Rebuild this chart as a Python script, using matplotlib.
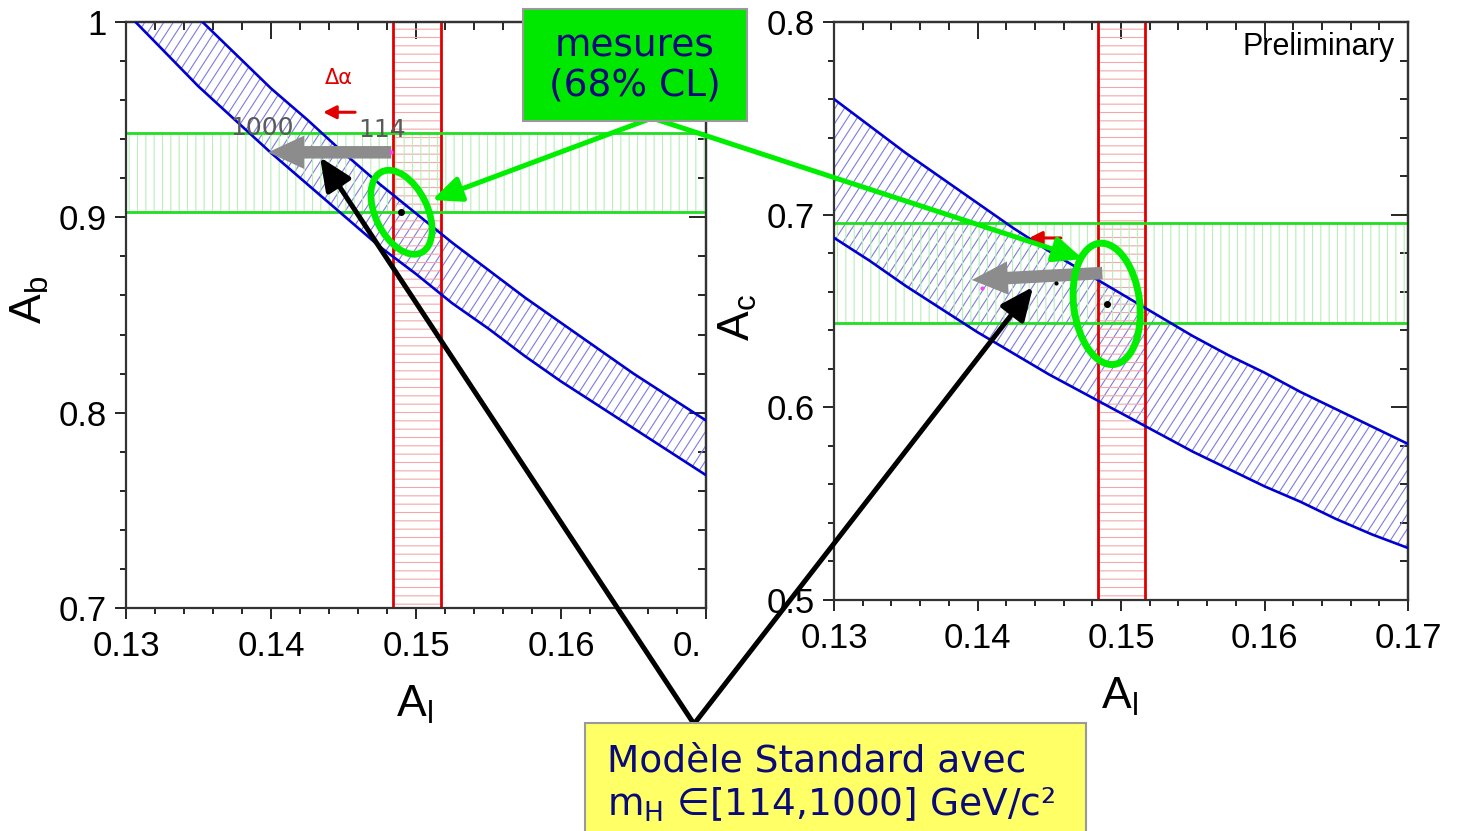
import matplotlib
matplotlib.use('Agg')
import matplotlib.pyplot as plt
import numpy as np
from matplotlib.patches import Rectangle, Ellipse, Polygon
from matplotlib.collections import LineCollection
from matplotlib.ticker import MultipleLocator, FuncFormatter

plt.rcParams['font.family'] = ['Liberation Sans', 'DejaVu Sans']
plt.rcParams['hatch.linewidth'] = 0.8

# A_l values at which the band edges are given
al_grid = [0.130, 0.1325, 0.135, 0.1375, 0.140, 0.1425, 0.145, 0.1475, 0.150,
           0.1525, 0.155, 0.1575, 0.160, 0.1625, 0.165, 0.1675, 0.170]
# A_b band from A_FB(b) (lower / upper edge)
ab_low = [1.005, 0.986, 0.967, 0.950, 0.933, 0.917, 0.901, 0.885, 0.871,
          0.856, 0.843, 0.829, 0.816, 0.804, 0.792, 0.780, 0.768]
ab_high = [1.041, 1.021, 1.002, 0.984, 0.966, 0.950, 0.933, 0.917, 0.902,
           0.887, 0.873, 0.859, 0.846, 0.833, 0.820, 0.808, 0.796]
# A_c band from A_FB(c)
ac_low = [0.688, 0.676, 0.663, 0.651, 0.639, 0.628, 0.617, 0.607, 0.597,
          0.587, 0.577, 0.568, 0.559, 0.551, 0.542, 0.534, 0.527]
ac_high = [0.760, 0.746, 0.732, 0.719, 0.706, 0.693, 0.681, 0.670, 0.659,
           0.648, 0.637, 0.627, 0.618, 0.608, 0.599, 0.590, 0.581]

# direct measurements (68% CL bands)
al_band = [0.1484, 0.1517]
ab_band = [0.9026, 0.9430]
ac_band = [0.6438, 0.6957]

# fitted points
ab_point = [0.1490, 0.9026]
ac_point = [0.1490, 0.6537]

# SM prediction, mH from 114 to 1000 GeV (start, end)
sm_ab_al = [0.1483, 0.1398]
sm_ab = [0.9333, 0.9333]
sm_ac_al = [0.1487, 0.1396]
sm_ac = [0.6697, 0.6661]

# shift from delta alpha
da_al = [0.1458, 0.1436]
da_ab = 0.9538
da_ac = 0.6879

W, H = 1460, 831
fig = plt.figure(figsize=(W / 100, H / 100), dpi=100)

axL = fig.add_axes([126 / W, 1 - 608 / H, 580 / W, 586 / H])
axR = fig.add_axes([834 / W, 1 - 600 / H, 574 / W, 578 / H])

fmt = FuncFormatter(lambda v, p: '%g' % round(v, 3))


def setup(ax, ylim):
    ax.set_xlim(0.13, 0.17)
    ax.set_ylim(*ylim)
    ax.xaxis.set_major_locator(MultipleLocator(0.01))
    ax.xaxis.set_minor_locator(MultipleLocator(0.002))
    ax.yaxis.set_major_locator(MultipleLocator(0.1))
    ax.yaxis.set_minor_locator(MultipleLocator(0.02))
    ax.xaxis.set_major_formatter(fmt)
    ax.yaxis.set_major_formatter(fmt)
    ax.tick_params(which='both', direction='out', width=1.2, labelsize=25,
                   colors='black')
    ax.tick_params(which='major', length=8)
    ax.tick_params(which='minor', length=4.5)
    ax.tick_params(axis='x', pad=8)
    ax.tick_params(axis='y', pad=6)
    for s in ax.spines.values():
        s.set_linewidth(1.6)
        s.set_color('#333333')
    # inward ticks on the opposite sides
    top = ax.secondary_xaxis('top')
    top.xaxis.set_major_locator(MultipleLocator(0.01))
    top.xaxis.set_minor_locator(MultipleLocator(0.002))
    top.tick_params(which='both', direction='in', width=1.2, labeltop=False)
    top.tick_params(which='major', length=12)
    top.tick_params(which='minor', length=6)
    top.spines['top'].set_linewidth(1.6)
    top.spines['top'].set_color('#333333')
    right = ax.secondary_yaxis('right')
    right.yaxis.set_major_locator(MultipleLocator(0.1))
    right.yaxis.set_minor_locator(MultipleLocator(0.02))
    right.tick_params(which='both', direction='in', width=1.2, labelright=False)
    right.tick_params(which='major', length=12)
    right.tick_params(which='minor', length=6)
    right.spines['right'].set_linewidth(1.6)
    right.spines['right'].set_color('#333333')


def slant_hatch(ax, ylo, yhi, color, angle=57, spacing=9.5):
    # steep hatching clipped to the band outline
    verts = list(zip(al_grid, ylo)) + list(zip(al_grid[::-1], yhi[::-1]))
    clip = Polygon(verts, closed=True, transform=ax.transData)
    bb = ax.get_position()
    w, h = bb.width * W, bb.height * H
    step = spacing / w
    dx = h / np.tan(np.radians(angle)) / w
    segs = [[(x0, 0), (x0 + dx, 1)] for x0 in np.arange(-dx, 1 + step, step)]
    lc = LineCollection(segs, colors=color, linewidths=0.8,
                        transform=ax.transAxes, zorder=1)
    lc.set_clip_path(clip)
    ax.add_collection(lc, autolim=False)


def bands(ax, ylo, yhi, yband, point):
    slant_hatch(ax, ylo, yhi, '#7c7ce2')
    ax.plot(al_grid, ylo, color='#0000d0', lw=1.9, zorder=3)
    ax.plot(al_grid, yhi, color='#0000d0', lw=1.9, zorder=3)
    ax.axvspan(al_band[0], al_band[1], facecolor='none', edgecolor='#f2a8a8',
               hatch='--', lw=0, zorder=1)
    ax.axhspan(yband[0], yband[1], facecolor='none', edgecolor='#b8eeb8',
               hatch='||', lw=0, zorder=1)
    for v in al_band:
        ax.axvline(v, color='#e00000', lw=2.0, zorder=2)
    for v in yband:
        ax.axhline(v, color='#22dd22', lw=2.0, zorder=2)
    ax.plot(point[0], point[1], 'o', color='black', ms=4, zorder=5)


setup(axL, (0.7, 1.0))
setup(axR, (0.5, 0.8))
bands(axL, ab_low, ab_high, ab_band, ab_point)
bands(axR, ac_low, ac_high, ac_band, ac_point)

# SM arrows
grey = dict(arrowstyle='simple,head_length=2.6,head_width=2.4,tail_width=0.9',
            mutation_scale=10, color='#8c8c8c', lw=0, shrinkA=0, shrinkB=0)
axL.annotate('', xy=(sm_ab_al[1], sm_ab[1]), xytext=(sm_ab_al[0], sm_ab[0]),
             arrowprops=grey, zorder=6)
axR.annotate('', xy=(sm_ac_al[1], sm_ac[1]), xytext=(sm_ac_al[0], sm_ac[0]),
             arrowprops=grey, zorder=6)
axL.plot(sm_ab_al[0], sm_ab[0], 'o', color='#ff40ff', ms=2, zorder=7)
axR.plot(sm_ac_al[1] + 0.0007, sm_ac[1] - 0.004, 'o', color='#ff40ff', ms=2, zorder=7)
axR.plot(0.1455, 0.6646, 'o', color='black', ms=2, zorder=7)
axL.text(0.13938, 0.9456, '1000', color='#5a5a5a', fontsize=18,
         family='DejaVu Sans', ha='center', va='center', zorder=7)
axL.text(0.14766, 0.9446, '114', color='#5a5a5a', fontsize=18,
         family='DejaVu Sans', ha='center', va='center', zorder=7)

# delta alpha shift
red = dict(arrowstyle='-|>,head_length=0.55,head_width=0.28', mutation_scale=14,
           color='#e00000', lw=2.2, shrinkA=0, shrinkB=0)
axL.annotate('', xy=(da_al[1], da_ab), xytext=(da_al[0], da_ab), arrowprops=red, zorder=6)
axR.annotate('', xy=(da_al[1], da_ac), xytext=(da_al[0], da_ac), arrowprops=red, zorder=6)
axL.text(0.14469, 0.9713, 'Δα', color='#e00000', fontsize=15,
         family='DejaVu Sans', ha='center', va='center', zorder=7)

axR.text(0.977, 0.957, 'Preliminary', transform=axR.transAxes, ha='right',
         va='center', fontsize=22)

# axis titles
axL.text(-0.166, 0.526, r'$\mathregular{A_b}$', transform=axL.transAxes,
         rotation=90, ha='center', va='center', fontsize=32)
axL.text(0.498, -0.166, r'$\mathregular{A_l}$', transform=axL.transAxes,
         ha='center', va='center', fontsize=32)
axR.text(-0.167, 0.488, r'$\mathregular{A_c}$', transform=axR.transAxes,
         rotation=90, ha='center', va='center', fontsize=32)
axR.text(0.498, -0.168, r'$\mathregular{A_l}$', transform=axR.transAxes,
         ha='center', va='center', fontsize=32)

# overlay in pixel units for the slide annotations
ov = fig.add_axes([0, 0, 1, 1], zorder=10)
ov.set_xlim(0, W)
ov.set_ylim(H, 0)
ov.axis('off')
ov.patch.set_alpha(0)

# the left frame is cut at its right edge
ov.add_patch(Rectangle((701, 621), 60, 50, facecolor='white', edgecolor='none', zorder=1))


def to_px(ax, xy):
    return ov.transData.inverted().transform(ax.transData.transform(xy))


# contours around the fitted points
cL = to_px(axL, ab_point)
cR = to_px(axR, ac_point)
ov.add_patch(Ellipse(cL, 90, 52, angle=64, facecolor='none', edgecolor='#00ee00',
                     lw=4.8, zorder=3))
ov.add_patch(Ellipse(cR, 122, 66, angle=83, facecolor='none', edgecolor='#00ee00',
                     lw=5, zorder=3))

green = dict(arrowstyle='-|>,head_length=0.8,head_width=0.35', mutation_scale=22,
             color='#00ee00', lw=3.6, shrinkA=0, shrinkB=0)
ov.annotate('', xy=(432, 200), xytext=(652, 118), arrowprops=green, zorder=4)
ov.annotate('', xy=(1083, 259), xytext=(652, 118), arrowprops=green, zorder=4)

black = dict(arrowstyle='-|>,head_length=0.9,head_width=0.4', mutation_scale=22,
             color='black', lw=3.6, shrinkA=0, shrinkB=0)
ov.annotate('', xy=(0.14338, 0.9308), xycoords=axL.transData, xytext=(694, 724),
            textcoords=ov.transData, arrowprops=black, zorder=5)
ov.annotate('', xy=(0.14387, 0.6625), xycoords=axR.transData, xytext=(694, 724),
            textcoords=ov.transData, arrowprops=black, zorder=5)

navy = '#0a0a78'
ov.add_patch(Rectangle((523, 9), 224, 112, facecolor='#00e800', edgecolor='#999999',
                       lw=1.5, zorder=6))
ov.text(635, 66, 'mesures\n(68% CL)', color=navy, fontsize=27, family='DejaVu Sans',
        ha='center', va='center', linespacing=1.1, zorder=7)

ov.add_patch(Rectangle((585, 723), 501, 140, facecolor='#ffff66', edgecolor='#999999',
                       lw=1.5, zorder=6))
ov.text(607, 771, 'Modèle Standard avec', color=navy, fontsize=27,
        family='DejaVu Sans', ha='left', va='baseline', zorder=7)
ov.text(607, 816, r'$\mathregular{m_H}$ ∈[114,1000] GeV/c²', color=navy, fontsize=27,
        family='DejaVu Sans', ha='left', va='baseline', zorder=7)

fig.savefig('out.png', dpi=100)
